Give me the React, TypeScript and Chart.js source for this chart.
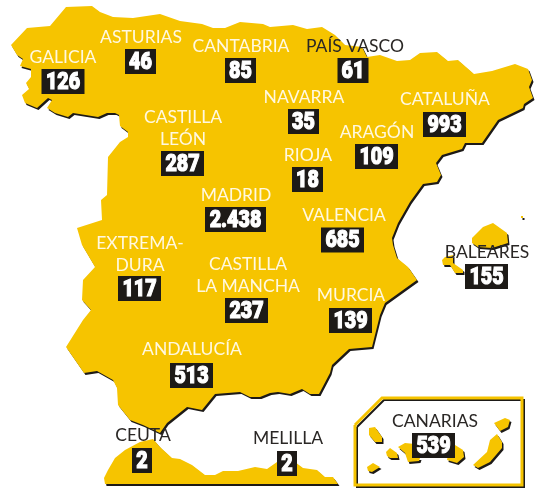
import React, { useEffect, useRef } from "react";
import { Chart, registerables } from "chart.js";

Chart.register(...registerables);

type P = [number, number];

const mainland: P[] = [
  [66,7],[92,6],[100,12],[113,17],[133,18],[160,14],[180,21],[202,24],[213,28],[225,28],[240,22],[263,24],
  [270,27],[293,25],[307,29],[322,27],[335,35],[345,45],[362,47],[367,57],[380,55],[397,61],[410,60],[420,53],
  [437,52],[448,61],[458,60],[474,74],[492,71],[515,64],[528,69],[532,80],[529,87],[533,98],[524,104],[523,108],
  [498,120],[482,143],[465,143],[462,149],[442,155],[436,163],[441,175],[437,182],[423,184],[410,202],[398,223],
  [392,238],[393,245],[397,258],[408,267],[417,280],[385,303],[380,315],[372,347],[349,349],[332,365],[330,373],
  [319,394],[310,394],[302,389],[290,394],[278,392],[270,393],[260,397],[250,397],[240,392],[215,394],[202,410],
  [187,407],[167,423],[160,433],[143,425],[130,420],[118,405],[117,388],[113,380],[97,371],[84,373],[66,347],
  [83,320],[91,310],[82,300],[83,280],[95,267],[82,245],[77,228],[102,220],[101,200],[107,195],[108,157],[120,142],
  [128,137],[128,132],[120,126],[119,115],[115,113],[107,113],[98,117],[73,113],[68,117],[55,113],[47,108],[52,100],
  [48,98],[37,108],[25,103],[22,95],[29,89],[26,83],[31,77],[31,69],[20,66],[23,59],[17,55],[11,45],[27,28],[50,26],[66,7],
];
const mallorca: P[] = [[472,238],[483,227],[493,223],[507,233],[508,243],[492,248],[478,247],[472,243],[472,238]];
const ibiza: P[] = [[442,260],[445,257],[453,255],[453,263],[463,270],[463,273],[455,273],[450,265],[443,265],[442,260]];
const islet: P[] = [[521,216],[523,216],[523,218],[521,218],[521,216]];
const africa: P[] = [
  [104,478],[108,470],[115,458],[125,450],[140,442],[153,439],[160,447],[172,458],[180,459],[192,465],[205,475],
  [215,475],[223,471],[238,471],[255,467],[267,469],[277,462],[295,462],[303,468],[317,470],[325,477],[333,477],
  [338,484],[105,484],[104,478],
];
const laPalma: P[] = [[369,428],[375,427],[382,437],[382,442],[375,442],[369,435],[369,428]];
const gomera: P[] = [[386,452],[390,448],[397,453],[398,458],[390,458],[387,456],[386,452]];
const hierro: P[] = [[367,467],[373,463],[380,467],[372,472],[368,471],[367,467]];
const tenerife: P[] = [[398,447],[405,443],[415,444],[415,458],[420,458],[419,461],[408,462],[405,453],[398,447]];
const granCanaria: P[] = [[450,445],[455,445],[463,450],[464,457],[457,463],[447,460],[450,445]];
const fuerteventura: P[] = [[473,465],[487,452],[490,440],[497,434],[502,442],[502,448],[490,462],[478,468],[473,465]];
const lanzarote: P[] = [[494,423],[505,418],[510,420],[508,427],[500,431],[494,423]];
const insetFrame: P[] = [[355,425],[382,398],[522,398],[522,485],[355,485],[355,425]];

const lands = [mainland, mallorca, ibiza, islet, africa, laPalma, gomera, hierro, tenerife, granCanaria, fuerteventura, lanzarote];

const regionLines: string[][] = [
  ["GALICIA"],["ASTURIAS"],["CANTABRIA"],["PAÍS VASCO"],["NAVARRA"],["CATALUÑA"],["ARAGÓN"],["RIOJA"],
  ["CASTILLA","LEÓN"],["MADRID"],["VALENCIA"],["EXTREMA-","DURA"],["CASTILLA","LA MANCHA"],["MURCIA"],
  ["ANDALUCÍA"],["BALEARES"],["CEUTA"],["MELILLA"],["CANARIAS"],
];
const cases: string[] = ["126","46","85","61","35","993","109","18","287","2.438","685","117","237","139","513","155","2","2","539"];
const labelCentre: P[] = [
  [63,57],[141,37],[241,46],[355,46],[304,97],[445,99],[377,132],[308,155],[183,117],[236,195],[344,215],
  [140,243],[248,264],[351,295],[192,349],[487,252],[143,435],[288,438],[435,421],
];
const boxCentre: P[] = [
  [63,81.5],[140.5,61.5],[240.5,70.5],[353,70.5],[303.5,121.5],[444.5,124.5],[376.5,156.5],[307.5,179.5],
  [182.5,163.5],[235.5,219.5],[342.5,240],[139.5,288.5],[246.5,310.5],[350.5,320.5],[191.5,375.5],[486.5,276.5],
  [142,460.5],[287,463.5],[433.5,445.5],
];
const darkLabels = ["PAÍS VASCO", "BALEARES", "CEUTA", "MELILLA", "CANARIAS"];

const YELLOW = "#f6c400";
const INK = "#1d1a17";

const xy = (pts: P[], dx = 0, dy = 0) => pts.map(([x, y]) => ({ x: x + dx, y: y + dy }));

const labelPlugin = {
  id: "mapLabels",
  afterDatasetsDraw(chart: any) {
    const { ctx, scales } = chart;
    const sx = scales.x, sy = scales.y;
    ctx.save();
    ctx.textAlign = "center";
    ctx.textBaseline = "middle";
    regionLines.forEach((lines, i) => {
      const cx = sx.getPixelForValue(labelCentre[i][0]);
      const cy = sy.getPixelForValue(labelCentre[i][1]);
      ctx.font = '400 17.5px Lato';
      ctx.fillStyle = darkLabels.includes(lines[0]) ? "#2a2725" : "#fff8e0";
      lines.forEach((t, j) => ctx.fillText(t, cx, cy + j * 22));
    });
    cases.forEach((v, i) => {
      const bx = sx.getPixelForValue(boxCentre[i][0]);
      const by = sy.getPixelForValue(boxCentre[i][1]);
      const digits = v.replace(".", "").length;
      const w = digits === 1 ? 20 : digits === 2 ? 31 : digits === 3 ? 43 : 61;
      ctx.fillStyle = INK;
      ctx.fillRect(bx - w / 2, by - 12.5, w, 25);
      ctx.save();
      ctx.translate(bx, by + 1);
      ctx.scale(0.82, 1);
      ctx.font = '900 24px Roboto';
      ctx.fillStyle = "#ffffff";
      ctx.strokeStyle = "#ffffff";
      ctx.lineWidth = 1.2;
      ctx.strokeText(v, 0, 0);
      ctx.fillText(v, 0, 0);
      ctx.restore();
    });
    ctx.restore();
  },
};

export default function App() {
  const ref = useRef<HTMLCanvasElement>(null);
  useEffect(() => {
    if (!ref.current) return;
    const base = { showLine: true, pointRadius: 0, tension: 0, borderWidth: 0 };
    const datasets: any[] = [];
    lands.forEach((pts) => {
      datasets.push({ ...base, data: xy(pts, 1.5, 2), fill: "shape", backgroundColor: INK, borderColor: INK, order: 3 });
      datasets.push({ ...base, data: xy(pts), fill: "shape", backgroundColor: YELLOW, borderColor: YELLOW, order: 2 });
    });
    datasets.push({ ...base, data: xy(insetFrame, 2, 2), fill: false, borderWidth: 2, borderColor: INK, order: 5, borderJoinStyle: "miter" });
    datasets.push({ ...base, data: xy(insetFrame), fill: false, borderWidth: 3, borderColor: YELLOW, order: 4, borderJoinStyle: "miter" });
    const chart = new Chart(ref.current, {
      type: "scatter",
      data: { datasets },
      options: {
        responsive: false,
        animation: false,
        layout: { padding: 0 },
        plugins: { legend: { display: false }, tooltip: { enabled: false } },
        scales: {
          x: { type: "linear", min: 0, max: 539, display: false },
          y: { type: "linear", min: 0, max: 490, reverse: true, display: false },
        },
      },
      plugins: [labelPlugin],
    } as any);
    return () => chart.destroy();
  }, []);
  return (
    <canvas ref={ref} width={539} height={490} style={{ position: "absolute", left: 0, top: 0, display: "block" }} />
  );
}
